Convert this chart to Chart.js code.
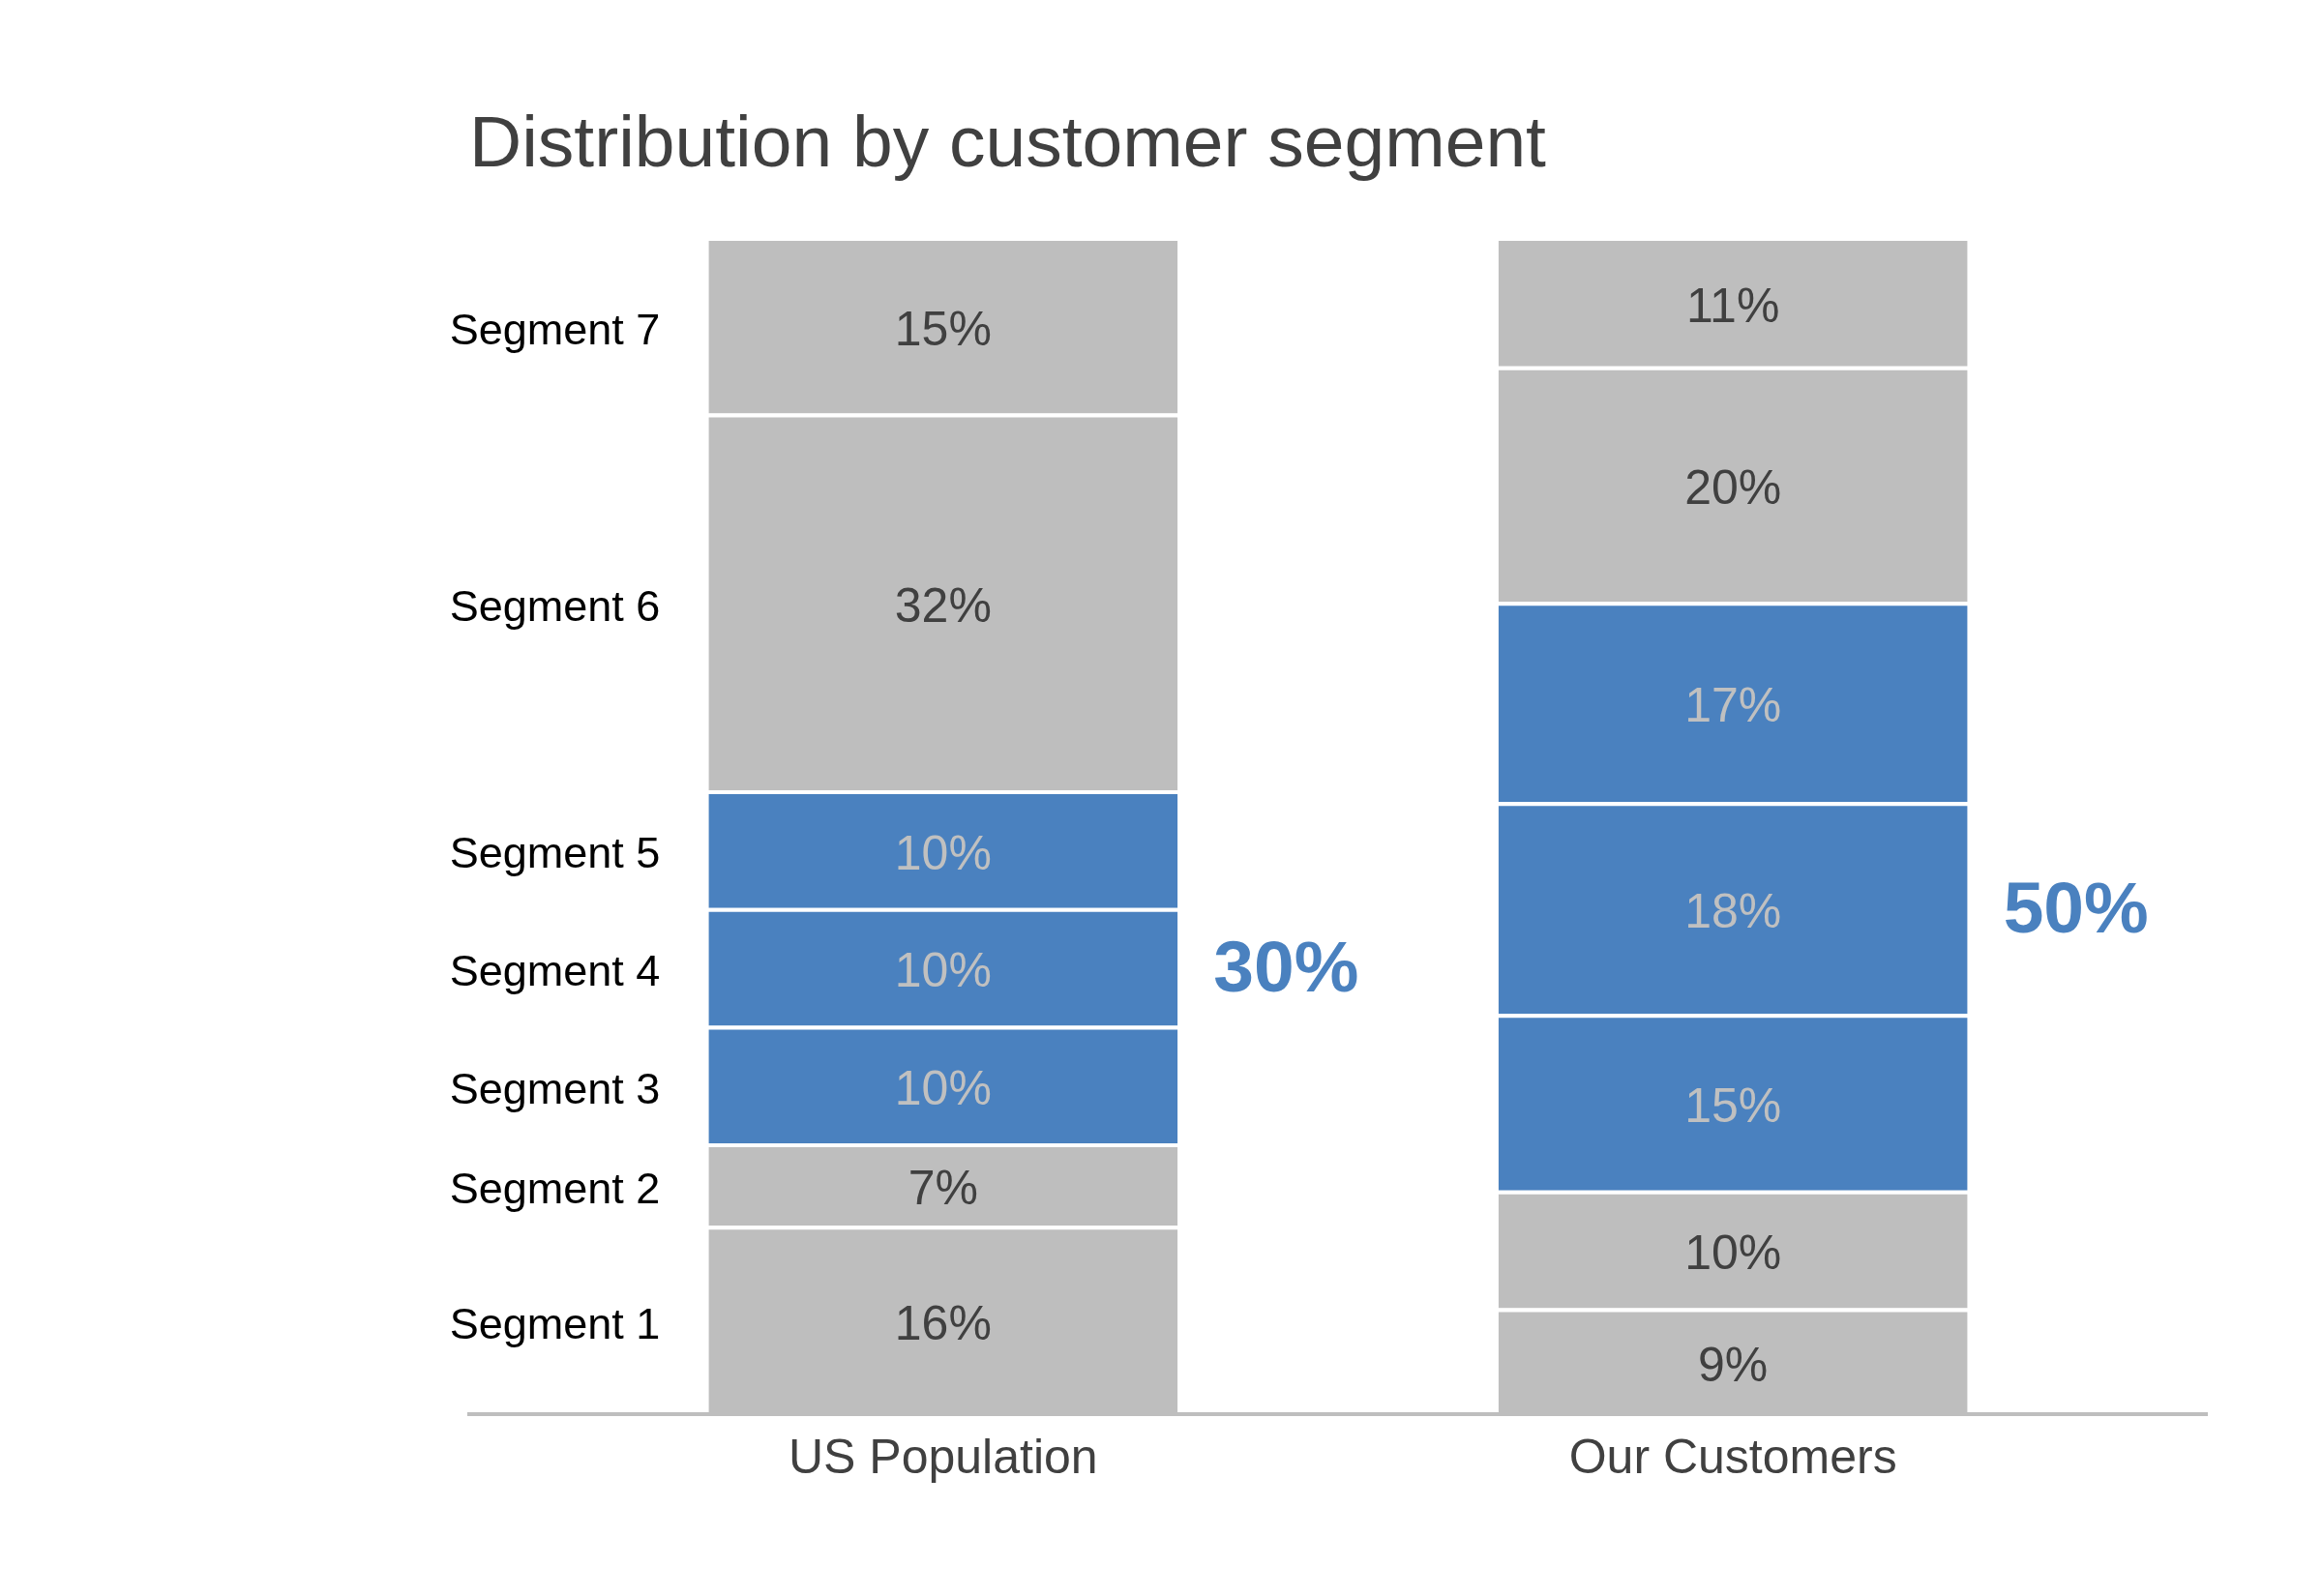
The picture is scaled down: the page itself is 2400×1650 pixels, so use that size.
<!DOCTYPE html>
<html>
<head>
<meta charset="utf-8">
<script src="https://cdn.jsdelivr.net/npm/chart.js@4"></script>
<style>
  html, body { margin: 0; padding: 0; background: #ffffff; }
  #wrap { width: 2400px; height: 1650px; position: relative; }
</style>
</head>
<body>
<div id="wrap"><canvas id="c" width="2400" height="1650"></canvas></div>
<script>
// ---- data ----
const categories = ['US Population', 'Our Customers'];
const segments = ['Segment 1', 'Segment 2', 'Segment 3', 'Segment 4', 'Segment 5', 'Segment 6', 'Segment 7'];
const usPopulation = [16, 7, 10, 10, 10, 32, 15];
const ourCustomers = [9, 10, 15, 18, 17, 20, 11];
const highlighted = [false, false, true, true, true, false, false];
const highlightTotals = ['30%', '50%'];
const titleText = 'Distribution by customer segment';

// ---- style ----
const GRAY = '#bebebe';
const BLUE = '#4a81bf';
const DARK = '#404040';
const FONT = '"Liberation Sans", Arial, Helvetica, sans-serif';

const seriesByCat = [usPopulation, ourCustomers];

const datasets = segments.map((seg, s) => ({
  label: seg,
  data: categories.map((c, i) => ({ x: i, y: seriesByCat[i][s] })),
  backgroundColor: highlighted[s] ? BLUE : GRAY,
  borderColor: '#ffffff',
  borderWidth: { top: 4, bottom: 0, left: 0, right: 0 },
  borderSkipped: false,
  barPercentage: 0.594,
  categoryPercentage: 1.0
}));

const TEXT_DY = 7;
const TOTAL_DY = 5;

const labelPlugin = {
  id: 'labels',
  afterDatasetsDraw(chart) {
    const ctx = chart.ctx;
    ctx.save();
    // values inside segments
    chart.data.datasets.forEach((ds, s) => {
      const meta = chart.getDatasetMeta(s);
      meta.data.forEach((bar, i) => {
        const yc = (bar.y + bar.base) / 2 + TEXT_DY;
        ctx.font = '50px ' + FONT;
        ctx.textAlign = 'center';
        ctx.textBaseline = 'middle';
        ctx.fillStyle = highlighted[s] ? '#c0c0c0' : DARK;
        ctx.fillText(seriesByCat[i][s] + '%', bar.x, yc);
      });
    });
    // segment names next to the first bar
    const firstIdx = 0;
    chart.data.datasets.forEach((ds, s) => {
      const bar = chart.getDatasetMeta(s).data[firstIdx];
      const yc = (bar.y + bar.base) / 2 + TEXT_DY;
      ctx.font = '45px ' + FONT;
      ctx.textAlign = 'right';
      ctx.textBaseline = 'middle';
      ctx.fillStyle = '#000000';
      ctx.fillText(segments[s], bar.x - bar.width / 2 - 50, yc);
    });
    // highlighted totals, aligned with segment 4
    const midSeg = 3;
    categories.forEach((c, i) => {
      const bar = chart.getDatasetMeta(midSeg).data[i];
      const yc = (bar.y + bar.base) / 2 + TOTAL_DY;
      ctx.font = 'bold 75px ' + FONT;
      ctx.textAlign = 'left';
      ctx.textBaseline = 'middle';
      ctx.fillStyle = BLUE;
      ctx.fillText(highlightTotals[i], bar.x + bar.width / 2 + 37, yc);
    });
    ctx.restore();
  }
};

new Chart(document.getElementById('c'), {
  type: 'bar',
  data: { datasets },
  options: {
    responsive: false,
    animation: false,
    layout: { padding: { top: 0, left: 485, right: 119, bottom: 68 } },
    plugins: {
      legend: { display: false },
      tooltip: { enabled: false },
      title: {
        display: true,
        text: titleText,
        align: 'start',
        fullSize: false,
        color: DARK,
        font: { family: FONT, size: 75, weight: 'normal', lineHeight: 1.2 },
        padding: { top: 106, bottom: 49 }
      }
    },
    scales: {
      x: {
        type: 'linear',
        stacked: true,
        offset: false,
        min: -0.6,
        max: 1.6,
        afterBuildTicks: (scale) => { scale.ticks = categories.map((c, i) => ({ value: i })); },
        afterFit: (scale) => { scale.height = 120; },
        grid: { display: false, drawTicks: false, offset: false },
        border: { display: true, color: GRAY, width: 4 },
        ticks: {
          padding: 17,
          color: DARK,
          font: { family: FONT, size: 50, lineHeight: 1.2 },
          autoSkip: false,
          maxRotation: 0,
          callback: (v) => categories[v] !== undefined ? categories[v] : ''
        }
      },
      y: {
        stacked: true,
        min: 0,
        max: 100,
        display: false
      }
    }
  },
  plugins: [labelPlugin]
});
</script>
</body>
</html>
